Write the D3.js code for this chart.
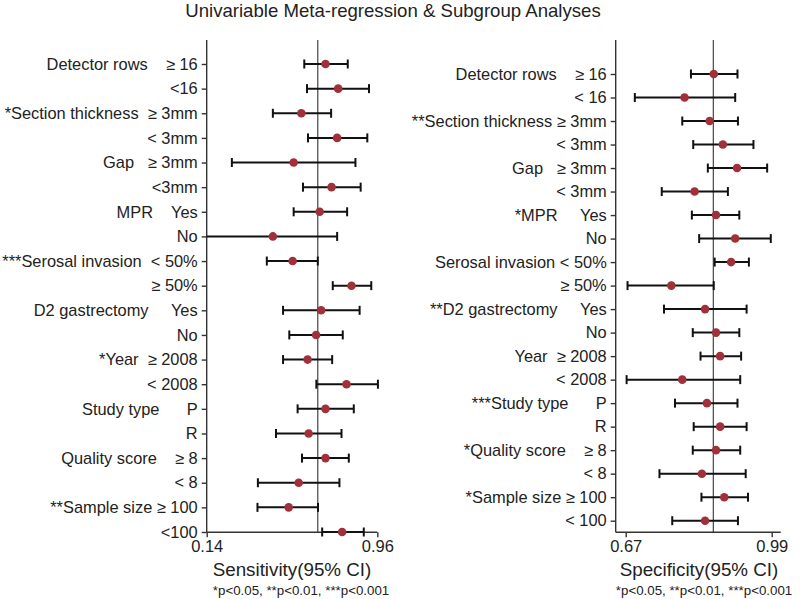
<!DOCTYPE html>
<html><head><meta charset="utf-8">
<script src="https://cdn.jsdelivr.net/npm/d3@7"></script>
<style>
body{margin:0;background:#fff;}
svg text{font-family:"Liberation Sans",Arial,sans-serif;fill:#222;white-space:pre;}
</style></head>
<body><svg id="c" width="800" height="599"></svg>
<script>
// ---------- data ----------
const title = "Univariable Meta-regression & Subgroup Analyses";

const sensLabels = ["Detector rows    \u2265 16","<16","*Section thickness  \u2265 3mm","< 3mm","Gap   \u2265 3mm","<3mm",
  "MPR    Yes","No","***Serosal invasion  < 50%","\u2265 50%","D2 gastrectomy     Yes","No","*Year  \u2265 2008","< 2008",
  "Study type      P","R","Quality score    \u2265 8","< 8","**Sample size \u2265 100","<100"];
const sensPoint = [0.711,0.772,0.595,0.767,0.558,0.740,0.683,0.458,0.553,0.836,0.690,0.666,0.625,0.812,0.711,0.630,0.711,0.582,0.534,0.791];
const sensLow   = [0.609,0.622,0.458,0.627,0.261,0.603,0.558,0.120,0.429,0.746,0.507,0.537,0.507,0.667,0.577,0.473,0.598,0.386,0.384,0.695];
const sensHigh  = [0.818,0.920,0.738,0.912,0.855,0.880,0.815,0.767,0.674,0.931,0.875,0.794,0.743,0.963,0.847,0.788,0.823,0.778,0.675,0.895];
const sensPooled = 0.674;
const sensTicks = [0.14, 0.96];

const specLabels = ["Detector rows    \u2265 16","< 16","**Section thickness \u2265 3mm","< 3mm","Gap   \u2265 3mm","< 3mm",
  "*MPR     Yes","No","Serosal invasion < 50%","\u2265 50%","**D2 gastrectomy     Yes","No","Year  \u2265 2008","< 2008",
  "***Study type      P","R","*Quality score    \u2265 8","< 8","*Sample size \u2265 100","< 100"];
const specPoint = [0.863,0.799,0.854,0.883,0.914,0.821,0.868,0.910,0.901,0.770,0.844,0.868,0.877,0.794,0.848,0.877,0.868,0.837,0.886,0.844];
const specLow   = [0.813,0.690,0.794,0.818,0.850,0.749,0.815,0.831,0.865,0.674,0.754,0.817,0.834,0.672,0.778,0.819,0.817,0.744,0.836,0.772];
const specHigh  = [0.915,0.910,0.916,0.950,0.980,0.894,0.919,0.988,0.940,0.863,0.935,0.919,0.923,0.921,0.915,0.935,0.921,0.933,0.938,0.916];
const specPooled = 0.862;
const specTicks = [0.67, 0.99];

const axisTitles = ["Sensitivity(95% CI)", "Specificity(95% CI)"];
const footnote = "*p<0.05, **p<0.01, ***p<0.001";

// ---------- drawing ----------
const svg = d3.select("#c");
svg.append("text").attr("x", 393).attr("y", 17).attr("text-anchor","middle")
  .style("font-size","18.6px").text(title);

const pointColor = "#a0303a";

function panel(cfg){
  const g = svg.append("g");
  const x = d3.scaleLinear().domain(cfg.domain).range(cfg.xRange);
  const idx = d3.range(cfg.labels.length);
  const y = d3.scalePoint().domain(idx).range(cfg.yRange);
  const yTop = 40, yBot = 532.3;

  // x axis
  const xAxis = d3.axisBottom(x).tickValues(cfg.ticks).tickSize(5).tickPadding(3)
    .tickFormat(d3.format(".2f"));
  const xa = g.append("g").attr("transform",`translate(0,${yBot})`).call(xAxis);
  xa.select(".domain").remove();
  xa.append("line").attr("x1", cfg.axisX).attr("x2", cfg.axisRight).attr("y1",0).attr("y2",0)
    .attr("stroke","#333").attr("stroke-width",1.4);
  xa.selectAll(".tick line").attr("stroke","#333").attr("stroke-width",1.4);
  xa.selectAll(".tick text").style("font-size","16.5px").style("font-family","Liberation Sans, Arial, sans-serif").attr("fill","#222");

  // y axis
  const yAxis = d3.axisLeft(y).tickSize(5).tickPadding(4).tickFormat(i => cfg.labels[i]);
  const ya = g.append("g").attr("transform",`translate(${cfg.axisX},0)`).call(yAxis);
  ya.select(".domain").remove();
  ya.append("line").attr("x1",0).attr("x2",0).attr("y1",yTop).attr("y2",yBot)
    .attr("stroke","#333").attr("stroke-width",1.4);
  ya.selectAll(".tick line").attr("stroke","#333").attr("stroke-width",1.4);
  ya.selectAll(".tick text").style("font-size","16.4px").style("font-family","Liberation Sans, Arial, sans-serif")
    .attr("fill","#222").style("white-space","pre").attr("xml:space","preserve");

  // reference line
  g.append("line").attr("x1",x(cfg.pooled)).attr("x2",x(cfg.pooled)).attr("y1",yTop).attr("y2",yBot)
    .attr("stroke","#333").attr("stroke-width",1.1);

  const lo = i => Math.max(cfg.low[i], x.invert(cfg.axisX));
  // error bars
  const bars = g.append("g");
  bars.selectAll("line.ci").data(idx).join("line").attr("class","ci")
    .attr("x1", i => x(lo(i))).attr("x2", i => x(cfg.high[i]))
    .attr("y1", i => y(i)).attr("y2", i => y(i))
    .attr("stroke","#111").attr("stroke-width",2);
  bars.selectAll("line.capl").data(idx.filter(i => cfg.low[i] >= x.invert(cfg.axisX))).join("line").attr("class","capl")
    .attr("x1", i => x(cfg.low[i])).attr("x2", i => x(cfg.low[i]))
    .attr("y1", i => y(i)-4.5).attr("y2", i => y(i)+4.5)
    .attr("stroke","#111").attr("stroke-width",2);
  bars.selectAll("line.caph").data(idx).join("line").attr("class","caph")
    .attr("x1", i => x(cfg.high[i])).attr("x2", i => x(cfg.high[i]))
    .attr("y1", i => y(i)-4.5).attr("y2", i => y(i)+4.5)
    .attr("stroke","#111").attr("stroke-width",2);
  bars.selectAll("circle").data(idx).join("circle")
    .attr("cx", i => x(cfg.point[i])).attr("cy", i => y(i)).attr("r",4.3)
    .attr("fill", pointColor);

  g.append("text").attr("x", cfg.titleX).attr("y", 576).attr("text-anchor","middle")
    .style("font-size","18.8px").text(cfg.axisTitle);
  g.append("text").attr("x", cfg.footX).attr("y", 595).attr("text-anchor","middle")
    .style("font-size","13.3px").text(footnote);
}

panel({labels: sensLabels, point: sensPoint, low: sensLow, high: sensHigh, pooled: sensPooled,
  ticks: sensTicks, domain:[0.14,0.96], xRange:[206.7,377.3], axisX:206.7, axisRight:377.3,
  yRange:[64,532], axisTitle: axisTitles[0], titleX: 292, footX: 301});
panel({labels: specLabels, point: specPoint, low: specLow, high: specHigh, pooled: specPooled,
  ticks: specTicks, domain:[0.67,0.99], xRange:[625.7,771.7], axisX:615.7, axisRight:780.7,
  yRange:[74,520.7], axisTitle: axisTitles[1], titleX: 699, footX: 704});
</script></body></html>
